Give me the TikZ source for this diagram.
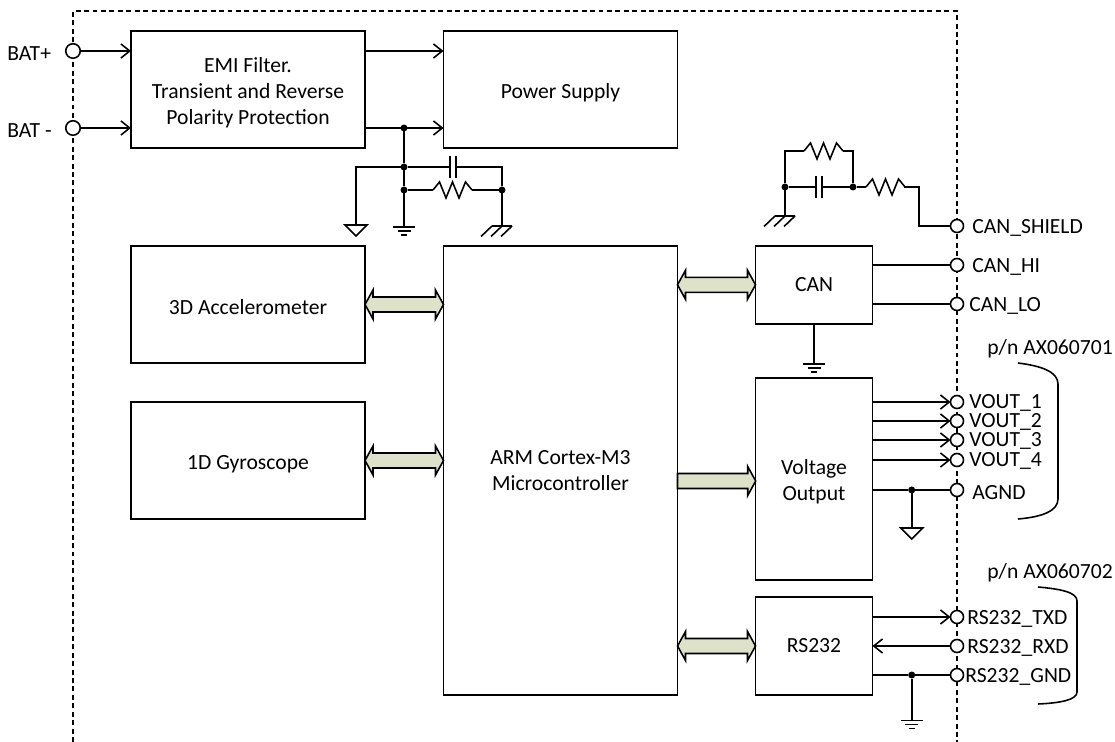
\documentclass[tikz,border=0pt]{standalone}
\usepackage{fontspec}
\setmainfont{Carlito}
\usetikzlibrary{arrows.meta,calc}
\definecolor{busgreen}{HTML}{DDE2C8}
\newcommand{\dn}{\rule{0pt}{12pt}}
\tikzset{
  wire/.style={line width=0.9pt},
  >={Straight Barb[length=5pt,width=8pt]},
  blok/.style={draw,wire,rectangle,outer sep=0pt,inner sep=0pt,align=center,font=\fontsize{12.3}{14.8}\selectfont},
  wideblok/.style={blok,minimum width=234*0.02cm},
  narrowblok/.style={blok,minimum width=117*0.02cm},
  term/.style={draw,wire,circle,fill=white,inner sep=0pt,outer sep=0pt,minimum size=13*0.02cm},
  dot/.style={circle,fill=black,inner sep=0pt,outer sep=0pt,minimum size=7*0.02cm},
  lbl/.style={anchor=west,inner sep=0pt,font=\fontsize{12.3}{14.8}\selectfont,execute at begin node=\rule{0pt}{10.5pt}},
  busboth/.style={draw,wire,fill=busgreen,line join=miter,to path={
    (\tikztostart) -- ++(8,-14.5) -- ++(0,7) -- ($(\tikztotarget)+(-8,-7.5)$) -- ++(0,-7) -- (\tikztotarget)
    -- ++(-8,14.5) -- ++(0,-7) -- ($(\tikztostart)+(8,7.5)$) -- ++(0,7) -- cycle}},
  busone/.style={draw,wire,fill=busgreen,line join=miter,to path={
    ($(\tikztostart)+(0,-7.5)$) -- ($(\tikztotarget)+(-8,-7.5)$) -- ++(0,-7) -- (\tikztotarget)
    -- ++(-8,14.5) -- ++(0,-7) -- ($(\tikztostart)+(0,7.5)$) -- cycle}},
  resistor/.pic={\draw[wire] (0,0) -- ++(6.5,-8) -- ++(6.5,16) -- ++(6.5,-16) -- ++(6.5,16) -- ++(6.5,-16) -- ++(6.5,8);},
  capacitor/.pic={\draw[wire] (-3,-11) -- (-3,11) (3,-11) -- (3,11);},
  earthgnd/.pic={\draw[wire] (-11,0) -- (11,0) (-6.5,4) -- (6.5,4) (-3,8) -- (3,8);},
  signalgnd/.pic={\draw[wire] (-11,0) -- (11,0) -- (0,11) -- cycle;},
  chassisgnd/.pic={\draw[wire] (-10,0) -- (10,0) (-10,0) -- ++(-11,10.5) (0,0) -- ++(-11,10.5) (10,0) -- ++(-11,10.5);}
}
\begin{document}
\begin{tikzpicture}[x=0.02cm,y=-0.02cm]
    \useasboundingbox (0,0) rectangle (1115,742);

    % Module outline
    \draw[line width=0.6pt,dash pattern=on 2.8pt off 2pt] (73,742) -- (73,11) -- (957,11) -- (957,742);

    % Blocks
    \node[wideblok,minimum height=117*0.02cm] (emi) at (248,89.5) {\dn EMI Filter.\\Transient and Reverse\\Polarity Protection};
    \node[wideblok,minimum height=117*0.02cm] (power) at (560.5,89.5) {\dn Power Supply};
    \node[wideblok,minimum height=117*0.02cm] (accel) at (248,304.5) {\dn 3D Accelerometer};
    \node[wideblok,minimum height=117*0.02cm] (gyro) at (248,460.5) {\dn 1D Gyroscope};
    \node[wideblok,minimum height=449*0.02cm] (arm) at (560.5,470.5) {ARM Cortex-M3\\Microcontroller};
    \node[narrowblok,minimum height=78*0.02cm] (can) at (814,284.8) {CAN};
    \node[narrowblok,minimum height=202*0.02cm] (vout) at (814,479) {\dn Voltage\\Output};
    \node[narrowblok,minimum height=98*0.02cm] (rs) at (814,646) {RS232};

    % Bus arrows
    \coordinate (vtap) at (755.7,481);
    \draw[busboth] (accel.east) to (accel.east -| arm.west);
    \draw[busboth] (gyro.east) to (gyro.east -| arm.west);
    \draw[busboth] (can.west -| arm.east) to (can.west);
    \draw[busone] (vtap -| arm.east) to (vtap);
    \draw[busboth] (rs.west -| arm.east) to (rs.west);

    % Terminals
    \node[term,minimum size=14.5*0.02cm] (batp) at (73,51) {};
    \node[term,minimum size=14.5*0.02cm] (batn) at (73,128) {};
    \node[lbl] (batplbl) at (7,51) {BAT+};
    \node[lbl] (batnlbl) at (7,128) {BAT -};
    \node[term] (shield) at (957,226) {};
    \node[term] (canhi) at (957,265) {};
    \node[term] (canlo) at (957,304) {};
    \node[lbl] (shieldlbl) at (972,226) {CAN\_SHIELD};
    \node[lbl] (canhilbl) at (972,265) {CAN\_HI};
    \node[lbl] (canlolbl) at (969,304) {CAN\_LO};
    \node[term] (agnd) at (957,490) {};
    \node[lbl] (agndlbl) at (972,490) {AGND};
    \node[term] (txd) at (957,617) {};
    \node[term] (rxd) at (957,646) {};
    \node[term] (rsgnd) at (957,675) {};
    \node[lbl] (txdlbl) at (967,617) {RS232\_TXD};
    \node[lbl] (rxdlbl) at (967,646) {RS232\_RXD};
    \node[lbl] (rsgndlbl) at (965,675) {RS232\_GND};
    \node[lbl] (pnone) at (987,347) {p/n AX060701};
    \node[lbl] (pntwo) at (987,571) {p/n AX060702};

    % Power input and output
    \draw[wire,->] (batp) -- (batp -| emi.west);
    \draw[wire,->] (batn) -- (batn -| emi.west);
    \draw[wire,->] (batp -| emi.east) -- (batp -| power.west);
    \draw[wire,->] (batn -| emi.east) -- (batn -| power.west);

    % Filter to ground
    \node[dot] (ja) at (404,128) {};
    \node[dot] (jb) at (404,167) {};
    \node[dot] (jc) at (404,190) {};
    \node[dot] (jd) at (502,190) {};
    \coordinate (sgnd) at (356,225);
    \coordinate (egnd) at (404,227);
    \coordinate (cgnd) at (502,226);
    \draw[wire] (ja) -- (jb) -- (jc) -- (egnd);
    \draw[wire] (sgnd) |- (jb) -- (451,167);
    \draw[wire] (455,167) -| (jd) -- (cgnd);
    \draw[wire] (jc) -- (433,190);
    \draw[wire] (472,190) -- (jd);
    \pic at (453,167) {capacitor};
    \pic at (433,190) {resistor};
    \pic at (sgnd) {signalgnd};
    \pic at (egnd) {earthgnd};
    \pic at (cgnd) {chassisgnd};

    % Shield network
    \node[dot] (je) at (785,187) {};
    \node[dot] (jf) at (853,187) {};
    \coordinate (cangnd) at (785,216);
    \draw[wire] (cangnd) -- (je) -- (816,187);
    \draw[wire] (822,187) -- (jf) -- (866,187);
    \draw[wire] (je) |- (804,151);
    \draw[wire] (843,151) -| (jf);
    \draw[wire] (904,187) -| (919,226) -- (shield);
    \pic at (819,187) {capacitor};
    \pic at (804,151) {resistor};
    \pic at (866,187) {resistor};
    \pic at (cangnd) {chassisgnd};

    % CAN lines
    \draw[wire] (canhi -| can.east) -- (canhi);
    \draw[wire] (canlo -| can.east) -- (canlo);
    \coordinate (cangndb) at (814,364);
    \draw[wire] (can.south) -- (cangndb);
    \pic at (cangndb) {earthgnd};

    % Voltage outputs
    \foreach \n/\y in {1/402,2/421,3/440,4/460} {
        \node[term] (vo\n) at (957,\y) {};
        \node[lbl] (vo\n lbl) at (969,\y-1) {VOUT\_\n};
        \draw[wire,->] (vo\n -| vout.east) -- (vo\n);
    }
    \node[dot] (jg) at (911.7,490) {};
    \coordinate (agndb) at (911.7,528);
    \draw[wire] (agnd -| vout.east) -- (jg) -- (agnd);
    \draw[wire] (jg) -- (agndb);
    \pic at (agndb) {signalgnd};

    % RS232 lines
    \node[dot] (jh) at (911.7,675) {};
    \coordinate (rsgndb) at (911.7,720.5);
    \draw[wire,->] (txd -| rs.east) -- (txd);
    \draw[wire,->] (rxd) -- (rxd -| rs.east);
    \draw[wire] (rsgnd -| rs.east) -- (jh) -- (rsgnd);
    \draw[wire] (jh) -- (rsgndb);
    \pic at (rsgndb) {earthgnd};

    % Connector brackets
    \draw[wire] (1018,363) .. controls (1042,366) and (1058,372) .. (1058,384) -- (1058,499) .. controls (1058,511) and (1042,517) .. (1018,519);
    \draw[wire] (1038,587) .. controls (1060,589) and (1077,592) .. (1077,601) -- (1077,692) .. controls (1077,700) and (1060,703) .. (1038,704);
\end{tikzpicture}
\end{document}
